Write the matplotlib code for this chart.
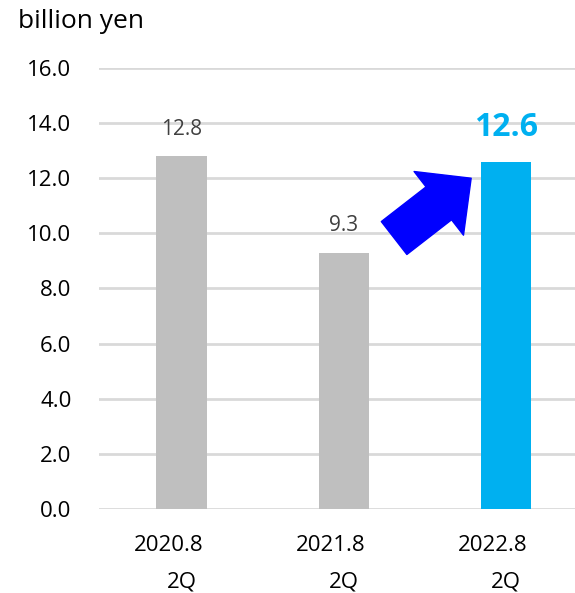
import matplotlib
matplotlib.use("Agg")
import matplotlib.pyplot as plt
from matplotlib.patches import FancyArrowPatch

plt.rcParams['font.family'] = ['Open Sans', 'DejaVu Sans']

# half-year figures, billion yen
periods = ["2020.8", "2021.8", "2022.8"]
quarter = ["2Q", "2Q", "2Q"]
sales = [12.8, 9.3, 12.6]
bar_colors = ["#BFBFBF", "#BFBFBF", "#00B0F0"]

fig = plt.figure(figsize=(5.75, 5.93), dpi=100)
ax = fig.add_axes([0.1727, 0.1417, 0.8273, 0.7437])

x = list(range(len(sales)))
width = 0.31
ax.bar(x, sales, width=width, color=bar_colors, zorder=3)

ax.set_ylim(0, 16)
ax.set_xlim(-0.507, 2.425)
ax.set_yticks([0, 2, 4, 6, 8, 10, 12, 14, 16])
ax.set_yticklabels(["%.1f" % v for v in ax.get_yticks()])
ax.yaxis.grid(True, color="#D9D9D9", linewidth=2.0, zorder=0)
ax.tick_params(axis="y", length=0, pad=20, labelsize=16, labelcolor="#000000")
ax.set_xticks([])
for s in ax.spines.values():
    s.set_visible(False)

# category labels, two rows under each bar
for i in x:
    ax.annotate(periods[i], xy=(i, 0), xytext=(-9.4, -26.6),
                textcoords="offset points", ha="center", va="center",
                fontsize=16, color="#000000")
    ax.annotate(quarter[i], xy=(i, 0), xytext=(0, -52.6),
                textcoords="offset points", ha="center", va="center",
                fontsize=16, color="#000000")

# value labels
for i in x[:-1]:
    ax.annotate("%.1f" % sales[i], xy=(i, sales[i]), xytext=(0, 19.4),
                textcoords="offset points", ha="center", va="center",
                fontsize=15, color="#404040")
ax.annotate("%.1f" % sales[-1], xy=(x[-1], sales[-1]), xytext=(0, 24.5),
            textcoords="offset points", ha="center", va="center",
            fontsize=23, fontweight="bold", color="#00B0F0")

# big arrow pointing at the latest bar
arrow = FancyArrowPatch((1.31, 9.83), (2 - width / 2 - 0.06, 12.0),
                        arrowstyle="simple,head_length=29.5,head_width=58,tail_width=30",
                        mutation_scale=1, color="#0000FF", shrinkA=0, shrinkB=0,
                        zorder=4)
ax.add_patch(arrow)

fig.text(18 / 575, 1 - 21 / 593, "billion yen", ha="left", va="center",
         fontsize=19, color="#000000")

fig.savefig("out.png", dpi=100)
